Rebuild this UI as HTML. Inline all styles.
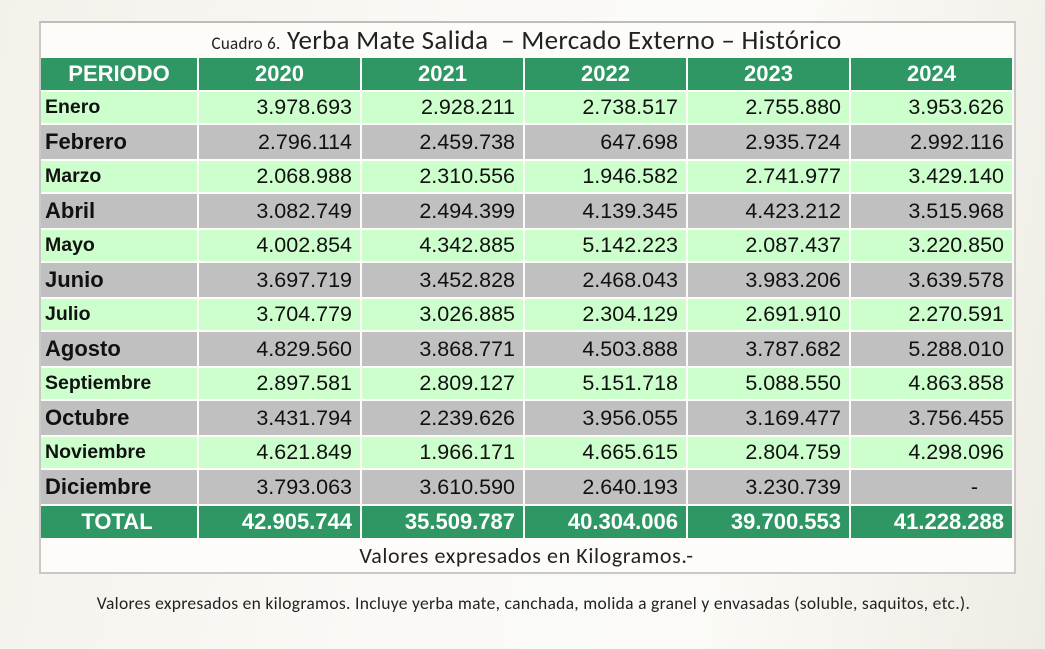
<!DOCTYPE html>
<html><head><meta charset="utf-8"><style>
body{margin:0;width:1045px;height:649px;overflow:hidden;background:linear-gradient(100deg,#f3f1ea 0%,#faf9f5 40%,#fbfaf6 70%,#eeece4 100%);font-family:"Liberation Sans",Arial,sans-serif;position:relative}
.box{position:absolute;left:39px;top:21px;width:973px;height:549px;border:2px solid #c8c8c8;border-top-color:#bdbdbd;background:#fdfcf9}
.title{position:absolute;left:41px;top:25px;width:971px;text-align:center;font-family:Carlito,"Liberation Sans",sans-serif;font-size:27px;color:#222;letter-spacing:0.3px;line-height:32px}
.title small{font-size:17px}
table{position:absolute;left:39px;top:56px;border-collapse:separate;border-spacing:2px;}
td{padding:0 8px;font-size:21.5px;color:#111;text-align:right;white-space:nowrap}
td:first-child{text-align:left;font-weight:bold;padding-left:4px}
tr.h td{background:#2e9764;color:#fff;font-weight:bold;text-align:center;height:32px;font-size:22px}
tr.a td{background:#ccffcc;height:31px}
tr.a td:first-child{font-size:19.5px}
tr.b td{background:#c0c0c0;height:34px}
tr.b td:first-child{font-size:22px}
tr.t td{background:#2e9764;color:#fff;font-weight:bold;height:32px;font-size:22px}
tr.t td:first-child{text-align:center}
.cap{position:absolute;left:41px;top:542px;width:971px;text-align:center;font-family:Carlito,"Liberation Sans",sans-serif;font-size:22px;color:#222;letter-spacing:0.6px}
.note{position:absolute;left:0;top:592px;width:1067px;text-align:center;font-family:Carlito,"Liberation Sans",sans-serif;font-size:17.5px;color:#222;letter-spacing:0.3px}
</style></head><body>
<div class="box"></div>
<div class="title"><small>Cuadro 6.</small> Yerba Mate Salida &nbsp;– Mercado Externo – Histórico</div>
<table>
<colgroup><col style="width:156px"><col style="width:161px"><col style="width:161px"><col style="width:161px"><col style="width:161px"><col style="width:161px"></colgroup>
<tr class="h"><td style="text-align:center;padding:0">PERIODO</td><td>2020</td><td>2021</td><td>2022</td><td>2023</td><td>2024</td></tr>
<tr class="a"><td>Enero</td><td>3.978.693</td><td>2.928.211</td><td>2.738.517</td><td>2.755.880</td><td>3.953.626</td></tr>
<tr class="b"><td>Febrero</td><td>2.796.114</td><td>2.459.738</td><td>647.698</td><td>2.935.724</td><td>2.992.116</td></tr>
<tr class="a"><td>Marzo</td><td>2.068.988</td><td>2.310.556</td><td>1.946.582</td><td>2.741.977</td><td>3.429.140</td></tr>
<tr class="b"><td>Abril</td><td>3.082.749</td><td>2.494.399</td><td>4.139.345</td><td>4.423.212</td><td>3.515.968</td></tr>
<tr class="a"><td>Mayo</td><td>4.002.854</td><td>4.342.885</td><td>5.142.223</td><td>2.087.437</td><td>3.220.850</td></tr>
<tr class="b"><td>Junio</td><td>3.697.719</td><td>3.452.828</td><td>2.468.043</td><td>3.983.206</td><td>3.639.578</td></tr>
<tr class="a"><td>Julio</td><td>3.704.779</td><td>3.026.885</td><td>2.304.129</td><td>2.691.910</td><td>2.270.591</td></tr>
<tr class="b"><td>Agosto</td><td>4.829.560</td><td>3.868.771</td><td>4.503.888</td><td>3.787.682</td><td>5.288.010</td></tr>
<tr class="a"><td>Septiembre</td><td>2.897.581</td><td>2.809.127</td><td>5.151.718</td><td>5.088.550</td><td>4.863.858</td></tr>
<tr class="b"><td>Octubre</td><td>3.431.794</td><td>2.239.626</td><td>3.956.055</td><td>3.169.477</td><td>3.756.455</td></tr>
<tr class="a"><td>Noviembre</td><td>4.621.849</td><td>1.966.171</td><td>4.665.615</td><td>2.804.759</td><td>4.298.096</td></tr>
<tr class="b"><td>Diciembre</td><td>3.793.063</td><td>3.610.590</td><td>2.640.193</td><td>3.230.739</td><td style="padding-right:34px">-</td></tr>
<tr class="t"><td>TOTAL</td><td>42.905.744</td><td>35.509.787</td><td>40.304.006</td><td>39.700.553</td><td>41.228.288</td></tr>
</table>
<div class="cap">Valores expresados en Kilogramos.-</div>
<div class="note">Valores expresados en kilogramos. Incluye yerba mate, canchada, molida a granel y envasadas (soluble, saquitos, etc.).</div>
</body></html>
